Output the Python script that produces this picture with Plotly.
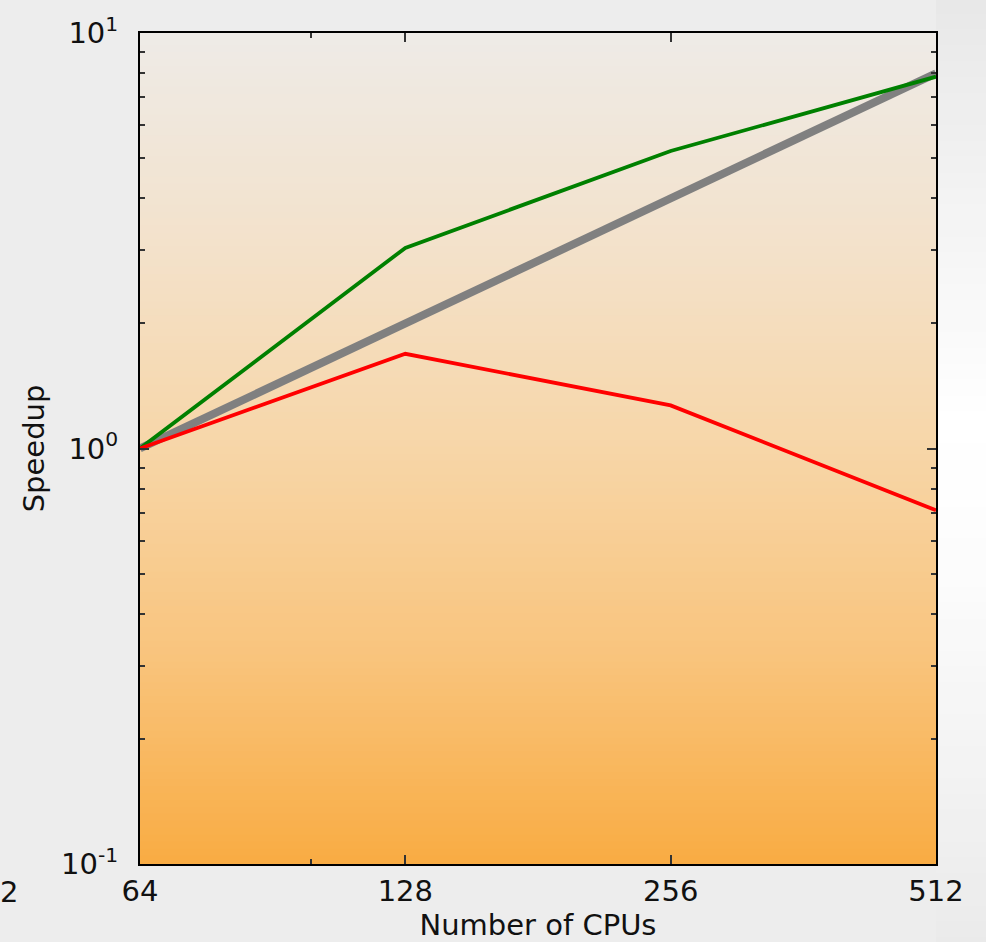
import plotly.graph_objects as go

# ---- data ----
cpus = [64, 128, 256, 512]
cpu_labels = ["64", "128", "256", "512"]
ideal = [1, 2, 4, 8]
green_speedup = [1.0, 3.04, 5.2, 7.85]
red_speedup = [1.0, 1.69, 1.27, 0.71]
y_tickvals = [0.1, 1, 10]
y_ticktext = ["10<sup>-1</sup>", "10<sup>0</sup>", "10<sup>1</sup>"]
y_minor = [0.2, 0.3, 0.4, 0.5, 0.6, 0.7, 0.8, 0.9, 2, 3, 4, 5, 6, 7, 8, 9]
x_minor = [100]

FONT = "DejaVu Sans"
FS = 29

fig = go.Figure()
fig.add_trace(go.Scatter(x=cpus, y=ideal, mode="lines",
                         line=dict(color="#808080", width=8), showlegend=False))
fig.add_trace(go.Scatter(x=cpus, y=green_speedup, mode="lines",
                         line=dict(color="#008000", width=3.8), showlegend=False))
fig.add_trace(go.Scatter(x=cpus, y=red_speedup, mode="lines",
                         line=dict(color="#ff0000", width=3.8), showlegend=False))

# gradient background for plot area (top -> bottom)
stops = [(0.0, (238, 235, 231)), (0.25, (243, 226, 204)), (0.5, (247, 214, 168)),
         (0.75, (249, 196, 125)), (1.0, (249, 172, 67))]


def interp(t, st):
    for (t0, c0), (t1, c1) in zip(st[:-1], st[1:]):
        if t0 <= t <= t1:
            f = (t - t0) / (t1 - t0)
            return tuple(round(a + (b - a) * f) for a, b in zip(c0, c1))
    return st[-1][1]


shapes = []
# right-margin slide background (gray -> white -> gray)
side_stops = [(0.0, (232, 232, 232)), (0.45, (255, 255, 255)), (0.6, (252, 252, 252)),
              (1.0, (234, 234, 234))]
M = 60
for i in range(M):
    t = (i + 0.5) / M
    c = interp(t, side_stops)
    shapes.append(dict(type="rect", xref="paper", yref="paper",
                       x0=1.0, x1=1.07, y0=1.04 - (i + 1) * 1.15 / M,
                       y1=1.04 - i * 1.15 / M + 0.003,
                       fillcolor="rgb(%d,%d,%d)" % c, line=dict(width=0),
                       layer="below"))
N = 120
for i in range(N):
    t = (i + 0.5) / N  # 0 top, 1 bottom
    c = interp(t, stops)
    shapes.append(dict(type="rect", xref="x domain", yref="y domain",
                       x0=0, x1=1, y0=1 - (i + 1) / N, y1=1 - i / N + 0.002,
                       fillcolor="rgb(%d,%d,%d)" % c, line=dict(width=0),
                       layer="below"))

fig.update_layout(
    width=986, height=942,
    margin=dict(l=140, r=50, t=28, b=78),
    paper_bgcolor="#ededed",
    plot_bgcolor="#f5d4a0",
    shapes=shapes,
    font=dict(family=FONT, size=FS, color="#111111"),
    annotations=[dict(text="2", xref="paper", yref="paper", x=-0.178, y=-0.011,
                      xanchor="left", yanchor="top", showarrow=False,
                      font=dict(family=FONT, size=FS, color="#111111"))],
)
fig.update_xaxes(
    type="log", range=[1.80618, 2.70927],
    tickvals=cpus, ticktext=cpu_labels,
    ticks="inside", ticklen=9, tickwidth=1.5, tickcolor="#333",
    showline=True, linecolor="black", linewidth=2, mirror="ticks",
    showgrid=False, zeroline=False,
    minor=dict(tickvals=x_minor, ticks="inside", ticklen=5, tickcolor="#333", showgrid=False),
    title=dict(text="Number of CPUs", font=dict(family=FONT, size=FS), standoff=2),
    tickfont=dict(family=FONT, size=FS),
)
fig.update_yaxes(
    type="log", range=[-1, 1],
    tickvals=y_tickvals, ticktext=y_ticktext,
    ticks="inside", ticklen=9, tickwidth=1.5, tickcolor="#333",
    showline=True, linecolor="black", linewidth=2, mirror="ticks",
    showgrid=False, zeroline=False,
    minor=dict(tickvals=y_minor, ticks="inside", ticklen=5, tickcolor="#333", showgrid=False),
    title=dict(text="Speedup", font=dict(family=FONT, size=FS), standoff=8),
    tickfont=dict(family=FONT, size=FS),
    ticklabelstandoff=14,
)

fig.write_html("out.html")
